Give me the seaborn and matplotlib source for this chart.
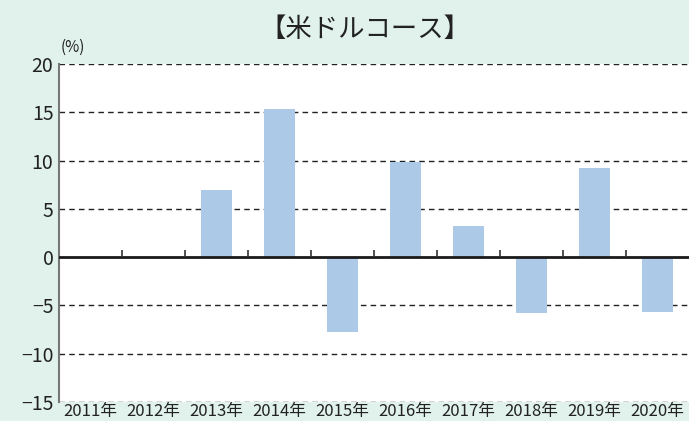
import numpy as np
import pandas as pd
import matplotlib
matplotlib.use("Agg")
import matplotlib.pyplot as plt
import seaborn as sns

years = ["2011年", "2012年", "2013年", "2014年", "2015年",
         "2016年", "2017年", "2018年", "2019年", "2020年"]
returns = [0, 0, 7.0, 15.3, -7.7, 9.9, 3.2, -5.8, 9.2, -5.7]
yticks = [-15, -10, -5, 0, 5, 10, 15, 20]

sns.set_style("white")
plt.rcParams["font.family"] = ["Noto Sans CJK JP", "DejaVu Sans"]

bg = "#e1f2ec"
bar_color = "#adc9e8"

df = pd.DataFrame({"year": years, "ret": returns})

fig = plt.figure(figsize=(6.89, 4.21), dpi=100, facecolor=bg)
ax = fig.add_axes([0.0856, 0.045, 0.9144, 0.803])
ax.set_facecolor("white")

sns.barplot(data=df, x="year", y="ret", color=bar_color, width=0.5,
            saturation=1, linewidth=0, ax=ax, zorder=2)

ax.set_xlim(-0.5, len(years) - 0.5)
ax.set_ylim(-15, 20)
ax.set_yticks(yticks)

# dashed grid lines
for t in yticks:
    if t != 0:
        ax.axhline(t, color="#222222", lw=1, ls=(0, (4, 3)), zorder=1)
ax.axhline(0, color="#1a1a1a", lw=2, zorder=3)
# small marks between the years on the zero line
ax.vlines(np.arange(1, len(years)) - 0.5, 0, 0.7, color="#333333", lw=1.2, zorder=3)

for s in ["top", "right", "bottom"]:
    ax.spines[s].set_visible(False)
ax.spines["left"].set_color("#777777")
ax.spines["left"].set_linewidth(1.5)

ax.tick_params(axis="x", length=0, pad=1, labelsize=12, labelcolor="#222222")
ax.tick_params(axis="y", length=0, pad=4, labelsize=14, labelcolor="#222222")
ax.set_xlabel("")
ax.set_ylabel("")

fig.text(0.53, 0.93, "【米ドルコース】", ha="center", va="center",
         fontsize=19, color="#222222")
fig.text(0.088, 0.888, "(%)", ha="left", va="center", fontsize=11, color="#222222")

fig.savefig("out.png", dpi=100, facecolor=bg)
